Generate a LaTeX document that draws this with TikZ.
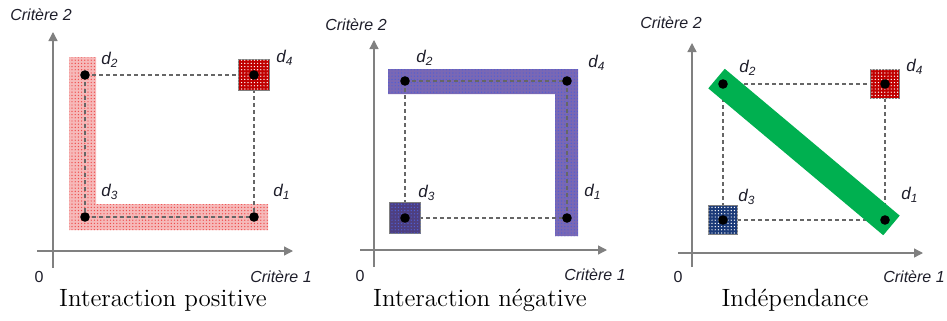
\documentclass[tikz,border=0pt]{standalone}
\usepackage{fontspec}
\newfontfamily\arial{Liberation Sans}
\usetikzlibrary{arrows.meta,calc,patterns}
\definecolor{axisgray}{HTML}{808080}
\definecolor{dashgray}{HTML}{666666}
\definecolor{squareedge}{HTML}{7F7F7F}
\definecolor{ink}{HTML}{1E1E2A}
\definecolor{pinkband}{HTML}{F6B9B9}
\definecolor{pinkdot}{HTML}{EE4A4A}
\definecolor{darkred}{HTML}{C00000}
\definecolor{purpband}{HTML}{7A68B4}
\definecolor{purpdot}{HTML}{4F5FD6}
\definecolor{purpdark}{HTML}{4E3F80}
\definecolor{greenband}{HTML}{00B050}
\definecolor{navy}{HTML}{1B3A78}
\pgfdeclarepatternformonly{finedots}{\pgfqpoint{-.5pt}{-.5pt}}{\pgfqpoint{2pt}{2pt}}{\pgfqpoint{1.6pt}{1.6pt}}{%
  \pgfpathcircle{\pgfqpoint{0.8pt}{0.8pt}}{0.35pt}\pgfusepath{fill}}

\begin{document}
\begin{tikzpicture}[x=0.5pt, y=-0.5pt,
  axe/.style={draw=axisgray, line width=0.65pt, -{Triangle[length=4.5pt, width=4.5pt]}},
  link/.style={draw=dashgray, line width=0.6pt, dash pattern=on 2pt off 1.5pt},
  pt/.style={circle, fill=black, inner sep=0pt, minimum size=4.8pt},
  sq/.style={draw=squareedge, line width=0.5pt, inner sep=0pt, minimum size=15.5pt},
  dotted fill/.style 2 args={fill=#1, postaction={pattern=finedots, pattern color=#2}},
  lab/.style={font=\arial\itshape\fontsize{8.5}{10}\selectfont, text=ink, inner sep=0pt},
  crit/.style={font=\arial\itshape\fontsize{8}{10}\selectfont, text=ink, inner sep=0pt},
  zero/.style={font=\arial\fontsize{8}{10}\selectfont, text=ink, inner sep=0pt},
  caption/.style={font=\fontsize{12.5}{14}\selectfont, inner sep=0pt},
]
\useasboundingbox (0,0) rectangle (947,321);

% interaction positive
\begin{scope}
\path[dotted fill={pinkband}{pinkdot}] (69,57) -- (96,57) -- (96,204) -- (268,204) -- (268,230) -- (69,230) -- cycle;
\draw[axe] (53,268) -- (53,32);
\draw[axe] (37,251) -- (293,251);
\coordinate (pos-d1) at (254,217);
\coordinate (pos-d2) at (85,75);
\coordinate (pos-d3) at (85,217);
\coordinate (pos-d4) at (254,75);
\draw[link] (pos-d2) -- (pos-d4);
\draw[link] (pos-d4) -- (pos-d1);
\draw[link] (pos-d2) -- (pos-d3);
\draw[link] (pos-d3) -- (pos-d1);
\node[sq, dotted fill={darkred}{white}] (pos-s4) at (pos-d4) {};
\foreach \i in {1,...,4} \node[pt] (pos-p\i) at (pos-d\i) {};
\node[lab] (pos-l1) at (282,192) {d\textsubscript{1}};
\node[lab] (pos-l2) at (110,60) {d\textsubscript{2}};
\node[lab] (pos-l3) at (110,192) {d\textsubscript{3}};
\node[lab] (pos-l4) at (285,58) {d\textsubscript{4}};
\node[crit] (pos-c2) at (41,15) {Critère 2};
\node[crit] (pos-c1) at (281,277) {Critère 1};
\node[zero] (pos-o) at (39,277) {0};
\node[caption] (pos-t) at (163,300) {Interaction positive};
\end{scope}

% interaction negative
\begin{scope}[shift={(320,0)}]
\path[dotted fill={purpband}{purpdot}] (68,69) -- (258,69) -- (258,236) -- (235,236) -- (235,94) -- (68,94) -- cycle;
\draw[axe] (54,267) -- (54,40);
\draw[axe] (40,250) -- (287,250);
\coordinate (neg-d1) at (247,218);
\coordinate (neg-d2) at (85,81);
\coordinate (neg-d3) at (85,218);
\coordinate (neg-d4) at (247,81);
\draw[link] (neg-d2) -- (neg-d4);
\draw[link] (neg-d4) -- (neg-d1);
\draw[link] (neg-d2) -- (neg-d3);
\draw[link] (neg-d3) -- (neg-d1);
\node[sq, dotted fill={purpdark}{purpdot}] (neg-s3) at (neg-d3) {};
\foreach \i in {1,...,4} \node[pt] (neg-p\i) at (neg-d\i) {};
\node[lab] (neg-l1) at (273,192) {d\textsubscript{1}};
\node[lab] (neg-l2) at (105,58) {d\textsubscript{2}};
\node[lab] (neg-l3) at (107,193) {d\textsubscript{3}};
\node[lab] (neg-l4) at (277,63) {d\textsubscript{4}};
\node[crit] (neg-c2) at (36,25) {Critère 2};
\node[crit] (neg-c1) at (275,275) {Critère 1};
\node[zero] (neg-o) at (40,276) {0};
\node[caption] (neg-t) at (160,300) {Interaction négative};
\end{scope}

% independance
\begin{scope}[shift={(630,0)}]
\draw[axe] (62,267) -- (62,43);
\draw[axe] (48,253) -- (293,253);
\coordinate (ind-d1) at (255,220);
\coordinate (ind-d2) at (93,84);
\coordinate (ind-d3) at (93,220);
\coordinate (ind-d4) at (255,84);
\draw[link] (ind-d2) -- (ind-d4);
\draw[link] (ind-d4) -- (ind-d1);
\draw[link] (ind-d2) -- (ind-d3);
\draw[link] (ind-d3) -- (ind-d1);
\draw[greenband, line width=12.8pt] ($(ind-d2)!-0.04!(ind-d1)$) -- ($(ind-d1)!-0.04!(ind-d2)$);
\node[sq, minimum size=14.5pt, dotted fill={darkred}{white}] (ind-s4) at (ind-d4) {};
\node[sq, minimum size=14.5pt, dotted fill={navy}{white}] (ind-s3) at (ind-d3) {};
\foreach \i in {1,...,4} \node[pt] (ind-p\i) at (ind-d\i) {};
\node[lab] (ind-l1) at (280,195) {d\textsubscript{1}};
\node[lab] (ind-l2) at (118,68) {d\textsubscript{2}};
\node[lab] (ind-l3) at (117,197) {d\textsubscript{3}};
\node[lab] (ind-l4) at (285,67) {d\textsubscript{4}};
\node[crit] (ind-c2) at (41,23) {Critère 2};
\node[crit] (ind-c1) at (284,277) {Critère 1};
\node[zero] (ind-o) at (48,277) {0};
\node[caption] (ind-t) at (165,300) {Indépendance};
\end{scope}
\end{tikzpicture}
\end{document}
